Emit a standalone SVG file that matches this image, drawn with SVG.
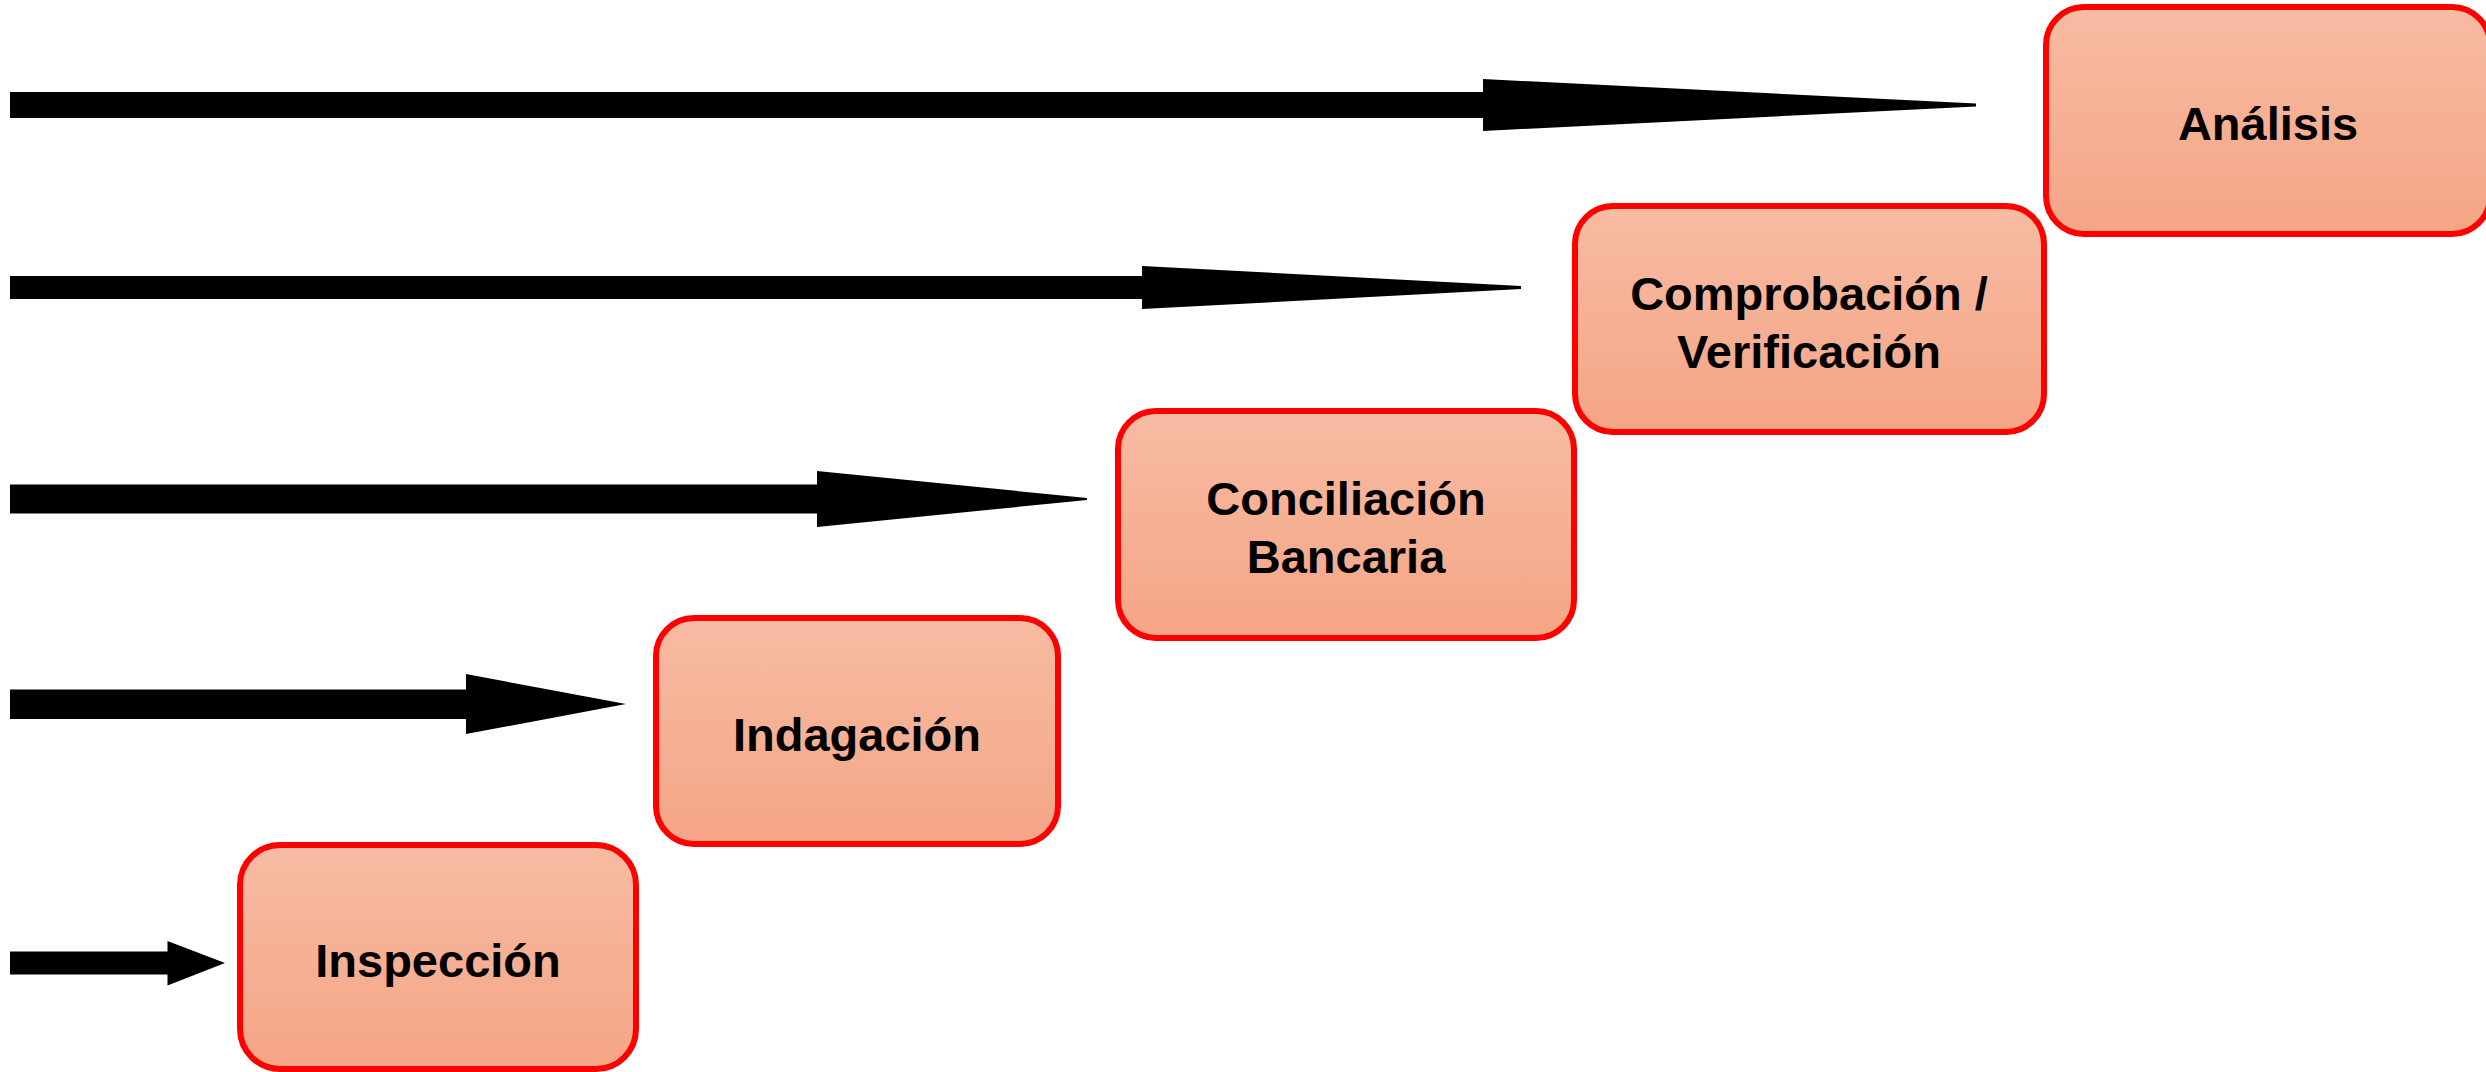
<svg xmlns="http://www.w3.org/2000/svg" width="2486" height="1072" viewBox="0 0 2486 1072">
  <defs>
    <linearGradient id="boxFill" x1="0" y1="0" x2="0" y2="1">
      <stop offset="0" stop-color="#F7BBA3"/>
      <stop offset="1" stop-color="#F5A585"/>
    </linearGradient>
    <style>
      .box { fill: url(#boxFill); stroke: #FF0000; stroke-width: 6; }
      .lbl { font-family: "Liberation Sans", Arial, sans-serif; font-weight: bold; font-size: 47px; fill: #000000; text-anchor: middle; }
      .arrow { fill: #000000; stroke: none; }
    </style>
  </defs>
  <rect x="0" y="0" width="2486" height="1072" fill="#FFFFFF"/>
  <g id="connectors">
    <polygon class="arrow" points="10,92 1483,92 1483,79 1976,103.5 1976,106.5 1483,131 1483,118 10,118"/>
    <polygon class="arrow" points="10,276 1142,276 1142,266 1521,286 1521,289 1142,309 1142,299 10,299"/>
    <polygon class="arrow" points="10,484.5 817,484.5 817,471 1087,498 1087,500 817,527 817,513.5 10,513.5"/>
    <polygon class="arrow" points="10,689.5 466,689.5 466,674 626,704 466,734 466,719 10,719"/>
    <polygon class="arrow" points="10,951.5 167.5,951.5 167.5,941 225,963 167.5,985.5 167.5,974.5 10,974.5"/>
  </g>
  <g id="inspeccion">
    <rect class="box" x="240" y="845" width="396" height="224" rx="40" ry="40"/>
    <text class="lbl" x="438" y="977">Inspección</text>
  </g>
  <g id="indagacion">
    <rect class="box" x="656" y="618" width="402" height="226" rx="38" ry="38"/>
    <text class="lbl" x="857" y="751">Indagación</text>
  </g>
  <g id="conciliacion">
    <rect class="box" x="1118" y="411" width="456" height="227" rx="38" ry="38"/>
    <text class="lbl" x="1346" y="515">Conciliación</text>
    <text class="lbl" x="1346" y="573">Bancaria</text>
  </g>
  <g id="comprobacion">
    <rect class="box" x="1575" y="206" width="469" height="226" rx="38" ry="38"/>
    <text class="lbl" x="1809" y="310">Comprobación /</text>
    <text class="lbl" x="1809" y="368">Verificación</text>
  </g>
  <g id="analisis">
    <rect class="box" x="2046" y="7" width="444" height="227" rx="38" ry="38"/>
    <text class="lbl" x="2268" y="140">Análisis</text>
  </g>
</svg>
